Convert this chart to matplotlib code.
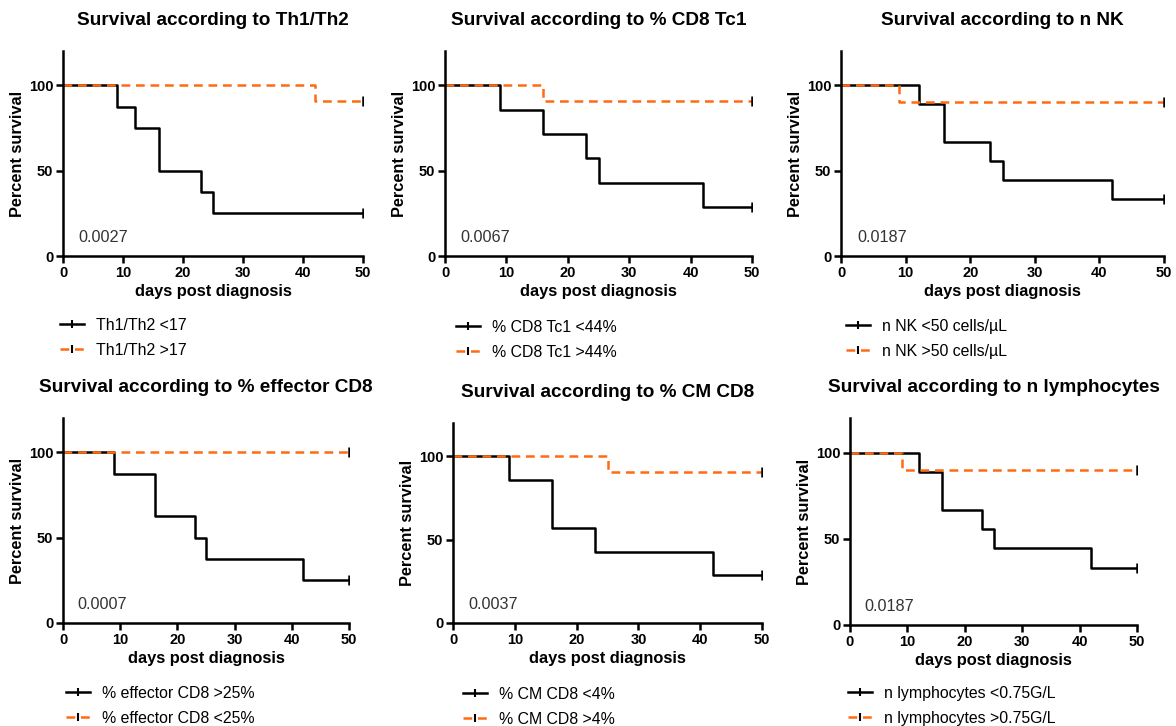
import numpy as np
import matplotlib.pyplot as plt

plt.rcParams['font.family'] = ['Liberation Sans', 'DejaVu Sans']

orange = '#FF6A13'

# panel titles, p values, legend labels
titles = ["Survival according to Th1/Th2", "Survival according to % CD8 Tc1",
          "Survival according to n NK", "Survival according to % effector CD8",
          "Survival according to % CM CD8", "Survival according to n lymphocytes"]
pvals = ["0.0027", "0.0067", "0.0187", "0.0007", "0.0037", "0.0187"]
labels_black = ["Th1/Th2 <17", "% CD8 Tc1 <44%", "n NK <50 cells/\u00b5L",
                "% effector CD8 >25%", "% CM CD8 <4%", "n lymphocytes <0.75G/L"]
labels_orange = ["Th1/Th2 >17", "% CD8 Tc1 >44%", "n NK >50 cells/\u00b5L",
                 "% effector CD8 <25%", "% CM CD8 >4%", "n lymphocytes >0.75G/L"]

# survival curves (time, percent)
black_t = [[0, 9, 12, 16, 23, 25, 50],
           [0, 9, 16, 23, 25, 42, 50],
           [0, 12, 16, 23, 25, 42, 50],
           [0, 9, 16, 23, 25, 42, 50],
           [0, 9, 16, 23, 42, 50],
           [0, 12, 16, 23, 25, 42, 50]]
black_s = [[100, 87.5, 75, 50, 37.5, 25, 25],
           [100, 85.7, 71.4, 57.1, 42.9, 28.6, 28.6],
           [100, 88.9, 66.7, 55.6, 44.4, 33.3, 33.3],
           [100, 87.5, 62.5, 50, 37.5, 25, 25],
           [100, 85.7, 57.1, 42.9, 28.6, 28.6],
           [100, 88.9, 66.7, 55.6, 44.4, 33.3, 33.3]]
orange_t = [[0, 42, 50],
            [0, 16, 50],
            [0, 9, 50],
            [0, 50],
            [0, 25, 50],
            [0, 9, 50]]
orange_s = [[100, 90.9, 90.9],
            [100, 90.9, 90.9],
            [100, 90, 90],
            [100, 100],
            [100, 90.9, 90.9],
            [100, 90, 90]]

W, H = 1176, 726
# axes boxes in pixels: left, right, top, bottom
boxes = [(63, 363, 51, 256), (445, 752, 51, 256), (841, 1164, 51, 256),
         (63, 349, 418, 623), (453, 762, 423, 623), (850, 1137, 418, 625)]
# legend anchor (handle left, top of first row) in pixels
leg_pos = [(60, 318), (456, 320), (846, 319), (66, 686), (463, 687), (848, 686)]

fig = plt.figure(figsize=(W / 100, H / 100), dpi=100)

for i in range(6):
    l, r, t, b = boxes[i]
    ax = fig.add_axes([l / W, 1 - b / H, (r - l) / W, (b - t) / H])
    ax.step(black_t[i], black_s[i], where='post', color='black', lw=1.8)
    ax.step(orange_t[i], orange_s[i], where='post', color=orange, lw=1.8,
            dashes=(3.5, 2.3))
    # censor ticks at the end
    ax.plot(black_t[i][-1], black_s[i][-1], marker='|', color='black', ms=7, mew=1.8)
    ax.plot(orange_t[i][-1], orange_s[i][-1], marker='|', color='black', ms=7, mew=1.8)
    ax.set_xlim(0, 50)
    ax.set_ylim(0, 120)
    ax.set_xticks([0, 10, 20, 30, 40, 50])
    ax.set_yticks([0, 50, 100])
    for s in ['top', 'right']:
        ax.spines[s].set_visible(False)
    for s in ['left', 'bottom']:
        ax.spines[s].set_linewidth(1.8)
    ax.tick_params(width=1.8, length=5, labelsize=10.5, pad=2)
    for lab in ax.get_xticklabels() + ax.get_yticklabels():
        lab.set_fontweight('bold')
    ax.set_xlabel("days post diagnosis", fontsize=11.8, fontweight='bold', labelpad=3)
    ax.set_ylabel("Percent survival", fontsize=11.8, fontweight='bold', labelpad=3)
    ax.set_title(titles[i], fontsize=13.7, fontweight='bold', pad=19)
    ax.text(2.5, 11, pvals[i], fontsize=11.7, color='#333333', va='center')

    hb = plt.Line2D([], [], color='black', lw=1.8, marker='|', ms=6, mew=1.5)
    ho = plt.Line2D([], [], color=orange, lw=1.8, dashes=(3.5, 2.3), marker='|',
                    ms=6, mew=1.5, mec='black')
    lx, ly = leg_pos[i]
    fig.legend([hb, ho], [labels_black[i], labels_orange[i]], loc='upper left',
               bbox_to_anchor=(lx / W, 1 - ly / H), frameon=False, fontsize=11.4,
               handlelength=1.5, handletextpad=0.75, labelspacing=0.62,
               borderpad=0, borderaxespad=0, numpoints=1)

plt.savefig('out.png', dpi=100)
